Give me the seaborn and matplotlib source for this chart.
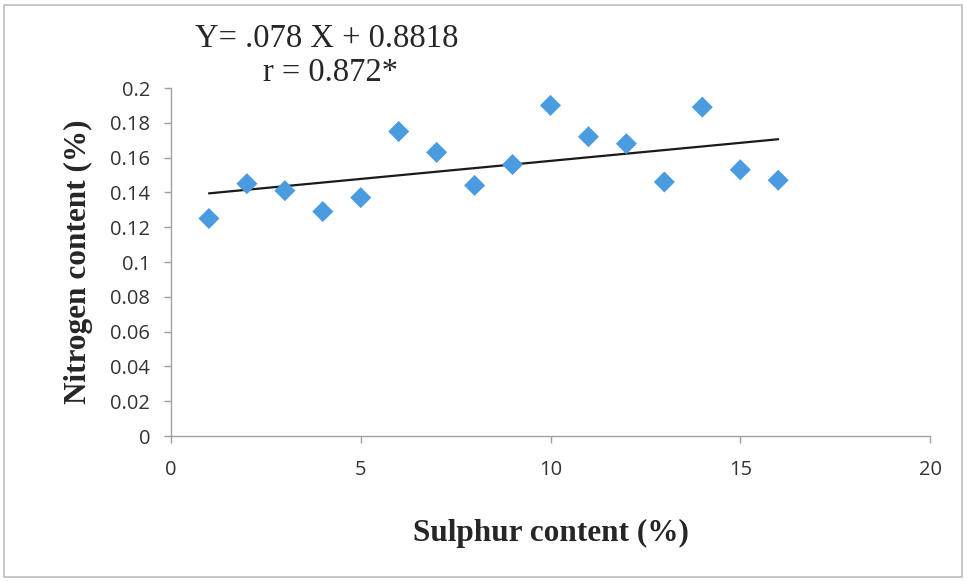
import numpy as np
import pandas as pd
import matplotlib
matplotlib.use("Agg")
import matplotlib.pyplot as plt
import seaborn as sns
from matplotlib.patches import Rectangle

# Sulphur vs nitrogen content of the samples
sulphur = [1, 2, 3, 4, 5, 6, 7, 8, 9, 10, 11, 12, 13, 14, 15, 16]
nitrogen = [0.125, 0.145, 0.141, 0.129, 0.137, 0.175, 0.163, 0.144, 0.156,
            0.190, 0.172, 0.168, 0.146, 0.189, 0.153, 0.147]
x_ticks = [0, 5, 10, 15, 20]
y_ticks = [0, 0.02, 0.04, 0.06, 0.08, 0.1, 0.12, 0.14, 0.16, 0.18, 0.2]
y_tick_labels = ["0", "0.02", "0.04", "0.06", "0.08", "0.1", "0.12", "0.14",
                 "0.16", "0.18", "0.2"]
equation = "Y= .078 X + 0.8818"
correlation = "r = 0.872*"

df = pd.DataFrame({"sulphur": sulphur, "nitrogen": nitrogen})

sns.set_style("white")
plt.rcParams["font.family"] = ["Open Sans", "DejaVu Sans"]

fig = plt.figure(figsize=(9.67, 5.81), dpi=100)
ax = fig.add_axes([171 / 967, 1 - 436 / 581, (930 - 171) / 967, (436 - 88) / 581])

sns.regplot(data=df, x="sulphur", y="nitrogen", scatter=False, ci=None,
            color="#1a1a1a", line_kws={"linewidth": 1.6}, ax=ax)
sns.scatterplot(data=df, x="sulphur", y="nitrogen", marker="D", s=115,
                color="#4a9be0", edgecolor="none", ax=ax, zorder=3)

ax.set_xlim(0, 20)
ax.set_ylim(0, 0.2)
ax.set_xticks(x_ticks)
ax.set_xticklabels([str(t) for t in x_ticks])
ax.set_yticks(y_ticks)
ax.set_yticklabels(y_tick_labels)

spine_color = "#a0a0a0"
for side in ["top", "right"]:
    ax.spines[side].set_visible(False)
for side in ["left", "bottom"]:
    ax.spines[side].set_color(spine_color)
    ax.spines[side].set_linewidth(1.0)

ax.tick_params(axis="both", which="major", direction="out", length=5,
               width=1.0, color=spine_color, labelsize=14.5, labelcolor="#333333",
               left=True, bottom=True)
ax.tick_params(axis="x", pad=12)
ax.tick_params(axis="y", pad=10)

ax.set_xlabel("Sulphur content (%)", family=["Liberation Serif"],
              fontweight="bold", fontsize=22.5, color="#262626", labelpad=28)
ax.set_ylabel("Nitrogen content (%)", family=["Liberation Serif"],
              fontweight="bold", fontsize=22.5, color="#262626", labelpad=12)

fig.text(0.338, 0.933, equation, ha="center", va="center",
         family=["Liberation Serif"], fontsize=23.5, color="#262626")
fig.text(0.342, 0.874, correlation, ha="center", va="center",
         family=["Liberation Serif"], fontsize=23.5, color="#262626")

# thin frame around the whole chart area
fig.patches.append(Rectangle((4 / 967, 4 / 581), 958 / 967, 572 / 581,
                             transform=fig.transFigure, fill=False,
                             edgecolor="#bdbdbd", linewidth=1.2))

fig.savefig("out.png", dpi=100)
